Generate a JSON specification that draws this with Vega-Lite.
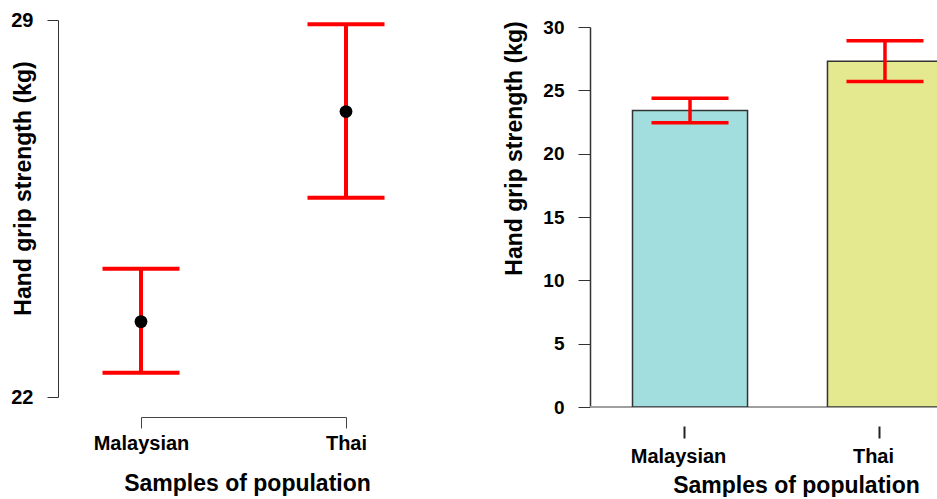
{
  "$schema": "https://vega.github.io/schema/vega-lite/v6.json",
  "padding": {"left": 10, "top": 10, "right": 0, "bottom": 0},
  "background": "white",
  "datasets": {
    "grip": [
      {"population": "Malaysian", "mean": 23.4, "lower": 22.45, "upper": 24.38},
      {"population": "Thai", "mean": 27.3, "lower": 25.7, "upper": 28.92}
    ]
  },
  "data": {"name": "grip"},
  "spacing": 114,
  "hconcat": [
    {
      "width": 330,
      "height": 377,
      "layer": [
        {
          "mark": {"type": "rule", "color": "#ff0000", "strokeWidth": 4},
          "encoding": {
            "x": {
              "field": "population", "type": "nominal", "title": "Samples of population",
              "scale": {"type": "point", "range": [83, 288], "padding": 0},
              "axis": {"offset": 20, "labelAngle": 0, "tickSize": 11, "domainColor": "#444", "tickColor": "#444", "labelFontSize": 20, "labelPadding": 5, "titleFontSize": 23, "titlePadding": 19, "titleX": 189}
            },
            "y": {
              "field": "lower", "type": "quantitative", "title": "Hand grip strength (kg)",
              "scale": {"domain": [22, 29], "nice": false, "zero": false},
              "axis": {"values": [22, 29], "format": "d", "tickSize": 11, "domainColor": "#333", "tickColor": "#333", "labelFontSize": 20, "labelPadding": 14, "titleFontSize": 23, "titleX": -23, "titleY": 168}
            },
            "y2": {"field": "upper"}
          }
        },
        {
          "mark": {"type": "tick", "color": "#ff0000", "thickness": 4, "size": 77, "opacity": 1},
          "encoding": {
            "x": {"field": "population", "type": "nominal", "title": "Samples of population"},
            "y": {"field": "lower", "type": "quantitative", "title": "Hand grip strength (kg)"}
          }
        },
        {
          "mark": {"type": "tick", "color": "#ff0000", "thickness": 4, "size": 77, "opacity": 1},
          "encoding": {
            "x": {"field": "population", "type": "nominal", "title": "Samples of population"},
            "y": {"field": "upper", "type": "quantitative", "title": "Hand grip strength (kg)"}
          }
        },
        {
          "mark": {"type": "circle", "color": "#000000", "size": 165, "opacity": 1},
          "encoding": {
            "x": {"field": "population", "type": "nominal", "title": "Samples of population"},
            "y": {"field": "mean", "type": "quantitative", "title": "Hand grip strength (kg)"}
          }
        }
      ]
    },
    {
      "width": 349,
      "height": 387,
      "layer": [
        {
          "mark": {"type": "rule", "color": "#999999", "strokeWidth": 1.5},
          "encoding": {"y": {"datum": 0, "type": "quantitative"}}
        },
        {
          "mark": {"type": "bar", "clip": true, "stroke": "#333333", "strokeWidth": 1.5, "opacity": 1},
          "encoding": {
            "x": {
              "field": "population", "type": "nominal", "title": "Samples of population",
              "scale": {"type": "band", "range": [0, 395], "paddingInner": 0.41, "paddingOuter": 0.218},
              "axis": {"offset": 19, "domain": false, "labelAngle": 0, "tickSize": 12, "tickWidth": 2, "tickColor": "#222", "tickOffset": -6, "labelOffset": -6, "labelFontSize": 20, "labelPadding": 8, "titleFontSize": 23, "titlePadding": 8, "titleX": 206}
            },
            "y": {
              "field": "mean", "type": "quantitative", "title": "Hand grip strength (kg)",
              "scale": {"domain": [0, 30], "nice": false, "range": [387, 7]},
              "axis": {"values": [0, 5, 10, 15, 20, 25, 30], "tickSize": 12, "labelFontSize": 19, "labelPadding": 14, "domainColor": "#333", "tickColor": "#333", "domainWidth": 1.5, "titleFontSize": 23, "titleX": -64, "titleY": 128}
            },
            "color": {
              "field": "population", "type": "nominal",
              "scale": {"domain": ["Malaysian", "Thai"], "range": ["#a1dedd", "#e4e88f"]},
              "legend": null
            }
          }
        },
        {
          "mark": {"type": "rule", "color": "#ff0000", "strokeWidth": 3.5},
          "encoding": {
            "x": {"field": "population", "type": "nominal", "title": "Samples of population"},
            "y": {"field": "lower", "type": "quantitative", "title": "Hand grip strength (kg)"},
            "y2": {"field": "upper"}
          }
        },
        {
          "mark": {"type": "tick", "color": "#ff0000", "thickness": 3.5, "size": 77, "opacity": 1},
          "encoding": {
            "x": {"field": "population", "type": "nominal", "title": "Samples of population"},
            "y": {"field": "lower", "type": "quantitative", "title": "Hand grip strength (kg)"}
          }
        },
        {
          "mark": {"type": "tick", "color": "#ff0000", "thickness": 3.5, "size": 77, "opacity": 1},
          "encoding": {
            "x": {"field": "population", "type": "nominal", "title": "Samples of population"},
            "y": {"field": "upper", "type": "quantitative", "title": "Hand grip strength (kg)"}
          }
        }
      ]
    }
  ],
  "config": {
    "view": {"stroke": null},
    "axis": {
      "grid": false,
      "labelFont": "Liberation Sans",
      "titleFont": "Liberation Sans",
      "labelFontWeight": "bold",
      "titleFontWeight": "bold",
      "labelColor": "#000000",
      "titleColor": "#000000"
    }
  }
}
